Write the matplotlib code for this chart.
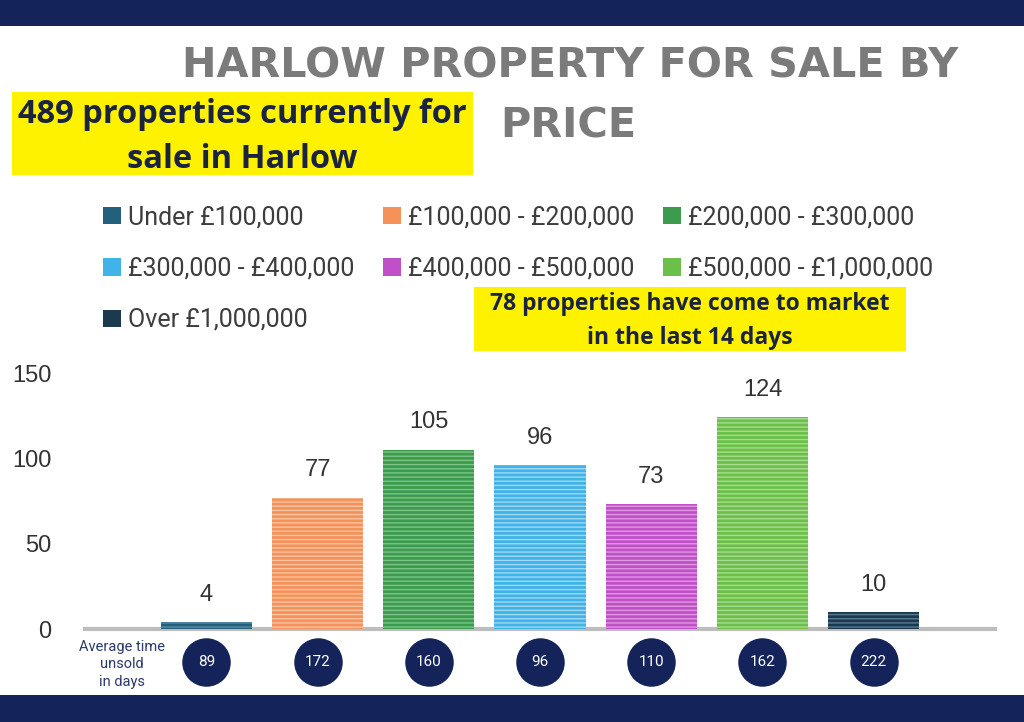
import matplotlib
matplotlib.use("Agg")
import matplotlib.pyplot as plt
from matplotlib.patches import Rectangle

categories = ["Under £100,000", "£100,000 - £200,000", "£200,000 - £300,000",
              "£300,000 - £400,000", "£400,000 - £500,000", "£500,000 - £1,000,000",
              "Over £1,000,000"]
counts = [4, 77, 105, 96, 73, 124, 10]
days_unsold = [89, 172, 160, 96, 110, 162, 222]
colors = ["#22607e", "#f4925a", "#3c9b4c", "#41b3e8", "#c04fc8", "#6cc04a", "#1b3a4f"]
stripe_colors = ["#5a8ea6", "#f8c4a4", "#7cc58a", "#a0daf4", "#e098e4", "#a8dc90", "#5a7a90"]
yticks = [0, 50, 100, 150]

NAVY = "#14245a"

fig = plt.figure(figsize=(10.24, 7.22), dpi=100)
fig.patch.set_facecolor("white")

# bands
fig.patches.append(Rectangle((0, 1 - 26 / 722), 1, 26 / 722, transform=fig.transFigure,
                             facecolor=NAVY, edgecolor="none", zorder=0))
fig.patches.append(Rectangle((0, 0), 1, 27 / 722, transform=fig.transFigure,
                             facecolor=NAVY, edgecolor="none", zorder=0))

ax = fig.add_axes([85 / 1024, (722 - 629) / 722, 910 / 1024, 256 / 722])
x = list(range(len(categories)))
bars = ax.bar(x, counts, width=0.82, color=colors, edgecolor="none", zorder=2)
ax.bar(x, counts, width=0.82, color="none", edgecolor=stripe_colors, hatch="----",
       linewidth=0, zorder=3)

ax.set_xlim(-1.09, 7.09)
ax.set_ylim(0, 150)
ax.set_yticks(yticks)
ax.set_yticklabels([str(t) for t in yticks], fontsize=17, color="#333333",
                   family="Liberation Sans")
ax.tick_params(axis="y", length=0, pad=24)
ax.set_xticks([])
for s in ["top", "right", "left"]:
    ax.spines[s].set_visible(False)
ax.spines["bottom"].set_color("#bdbdbd")
ax.spines["bottom"].set_linewidth(3)
ax.spines["bottom"].set_zorder(1)

for xi, c in zip(x, counts):
    ax.text(xi, c + 16, str(c), ha="center", va="center", fontsize=17,
            color="#333333", family="Liberation Sans")

# circles with days unsold
cy = -19.3
ax.scatter(x, [cy] * len(x), s=1150, color=NAVY, clip_on=False, zorder=4)
for xi, d in zip(x, days_unsold):
    ax.text(xi, cy, str(d), ha="center", va="center", fontsize=11, color="white",
            family="Roboto", clip_on=False, zorder=5)
ax.text(-0.755, -20.8, "Average time\nunsold\nin days", ha="center", va="center",
        fontsize=10.5, color="#2a3a6a", family="Roboto", linespacing=1.3)

# title
fig.text(570 / 1024, 1 - 66 / 722, "HARLOW PROPERTY FOR SALE BY", ha="center",
         va="center", fontsize=29.8, fontweight="bold", color="#7b7b7b",
         family="DejaVu Sans")
fig.text(568 / 1024, 1 - 126 / 722, "PRICE", ha="center", va="center",
         fontsize=29.8, fontweight="bold", color="#7b7b7b", family="DejaVu Sans")

# yellow box 1
fig.patches.append(Rectangle((12 / 1024, (722 - 175) / 722), 461 / 1024, 83 / 722,
                             transform=fig.transFigure, facecolor="#fff200",
                             edgecolor="none", zorder=1))
fig.text(242 / 1024, 1 - 137 / 722, "489 properties currently for\nsale in Harlow",
         ha="center", va="center", fontsize=23.5, fontweight="bold", color="#1a2340",
         family="Open Sans", linespacing=1.5, zorder=2)

# yellow box 2
fig.patches.append(Rectangle((474 / 1024, (722 - 351) / 722), 432 / 1024, 64 / 722,
                             transform=fig.transFigure, facecolor="#fff200",
                             edgecolor="none", zorder=1))
fig.text(690 / 1024, 1 - 321 / 722, "78 properties have come to market\nin the last 14 days",
         ha="center", va="center", fontsize=16.5, fontweight="bold", color="#1a2340",
         family="Open Sans", linespacing=1.5, zorder=2)

# legend (row-major order)
order = [0, 3, 6, 1, 4, 2, 5]
handles = [bars[i] for i in order]
labels = [categories[i] for i in order]
leg = fig.legend(handles, labels, ncol=3, loc="upper left",
                 bbox_to_anchor=(103 / 1024, 1 - 205 / 722), frameon=False,
                 borderpad=0, borderaxespad=0, handlelength=0.7, handleheight=0.7,
                 handletextpad=0.3, columnspacing=1.15, labelspacing=1.1,
                 prop={"family": "Roboto", "size": 18})
for t in leg.get_texts():
    t.set_color("#3d3d3d")

fig.savefig("out.png", dpi=100)
